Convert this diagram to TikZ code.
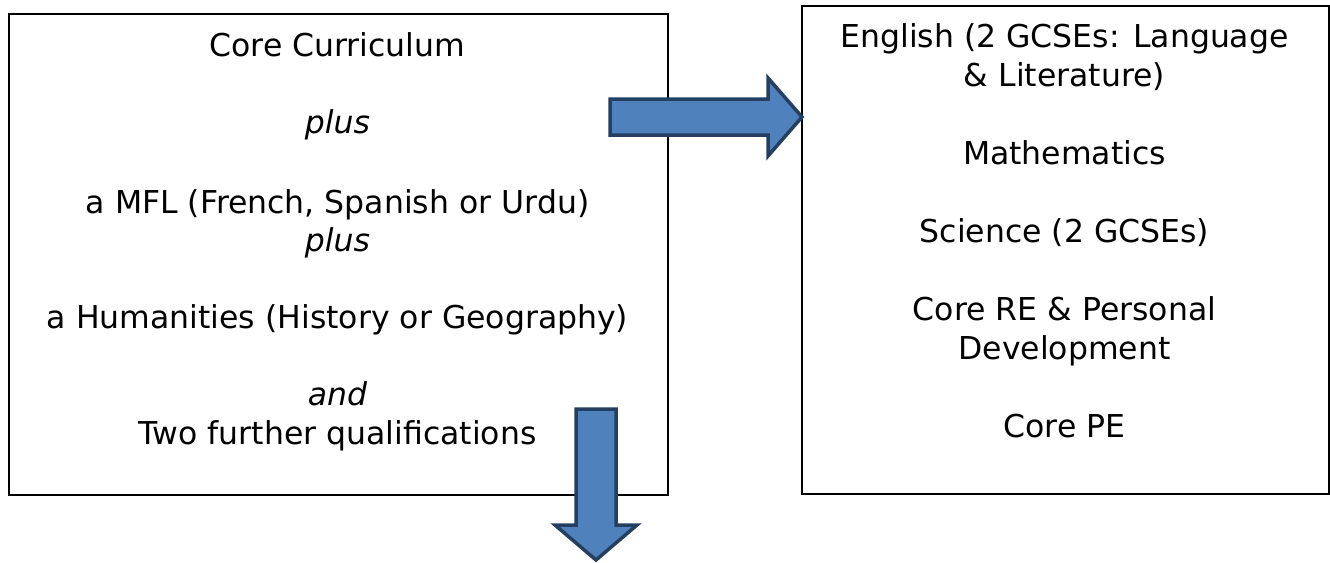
\documentclass[tikz,border=0pt]{standalone}
\usepackage{fontspec}
\setmainfont{DejaVu Sans}
\definecolor{arrowfill}{HTML}{4F81BD}
\definecolor{arrowline}{HTML}{243F60}
\begin{document}
\begin{tikzpicture}[x=1pt,y=-1pt,
  box/.style={draw=black, line width=1.5pt, fill=white, anchor=north west, inner sep=0pt},
  txt/.style={font=\fontsize{31.5}{38}\selectfont, anchor=base, inner sep=0pt},
  blockarrow/.style={fill=arrowfill, draw=arrowline, line width=3.5pt, line join=miter}]
\useasboundingbox (0,0) rectangle (1330,562);
\node[box, minimum width=659pt, minimum height=481pt] (L) at (8,13) {};
\node[box, minimum width=527pt, minimum height=488pt] (R) at (801,5) {};
% left box text
\node[txt] (l1) at (337.5,56)  {Core Curriculum};
\node[txt] (l2) at (337.5,133) {\itshape plus};
\node[txt] (l3) at (337.5,213) {a MFL (French, Spanish or Urdu)};
\node[txt] (l4) at (337.5,251) {\itshape plus};
\node[txt] (l5) at (337.5,328) {a Humanities (History or Geography)};
\node[txt] (l6) at (337.5,405) {\itshape and};
\node[txt] (l7) at (337.5,444) {Two further qualifications};
% right box text
\node[txt] (r1) at (1064.5,47)  {English (2 GCSEs: Language};
\node[txt] (r2) at (1064.5,86)  {\& Literature)};
\node[txt] (r3) at (1064.5,164) {Mathematics};
\node[txt] (r4) at (1064.5,242) {Science (2 GCSEs)};
\node[txt] (r5) at (1064.5,320) {Core RE \& Personal};
\node[txt] (r6) at (1064.5,359) {Development};
\node[txt] (r7) at (1064.5,437) {Core PE};
% block arrows
\draw[blockarrow] (610,99) -- (768,99) -- (768,78) -- (802,117) -- (768,156) -- (768,135) -- (610,135) -- cycle;
\draw[blockarrow] (576,409) -- (616,409) -- (616,525) -- (637,525) -- (596,560) -- (555,525) -- (576,525) -- cycle;
\end{tikzpicture}
\end{document}
